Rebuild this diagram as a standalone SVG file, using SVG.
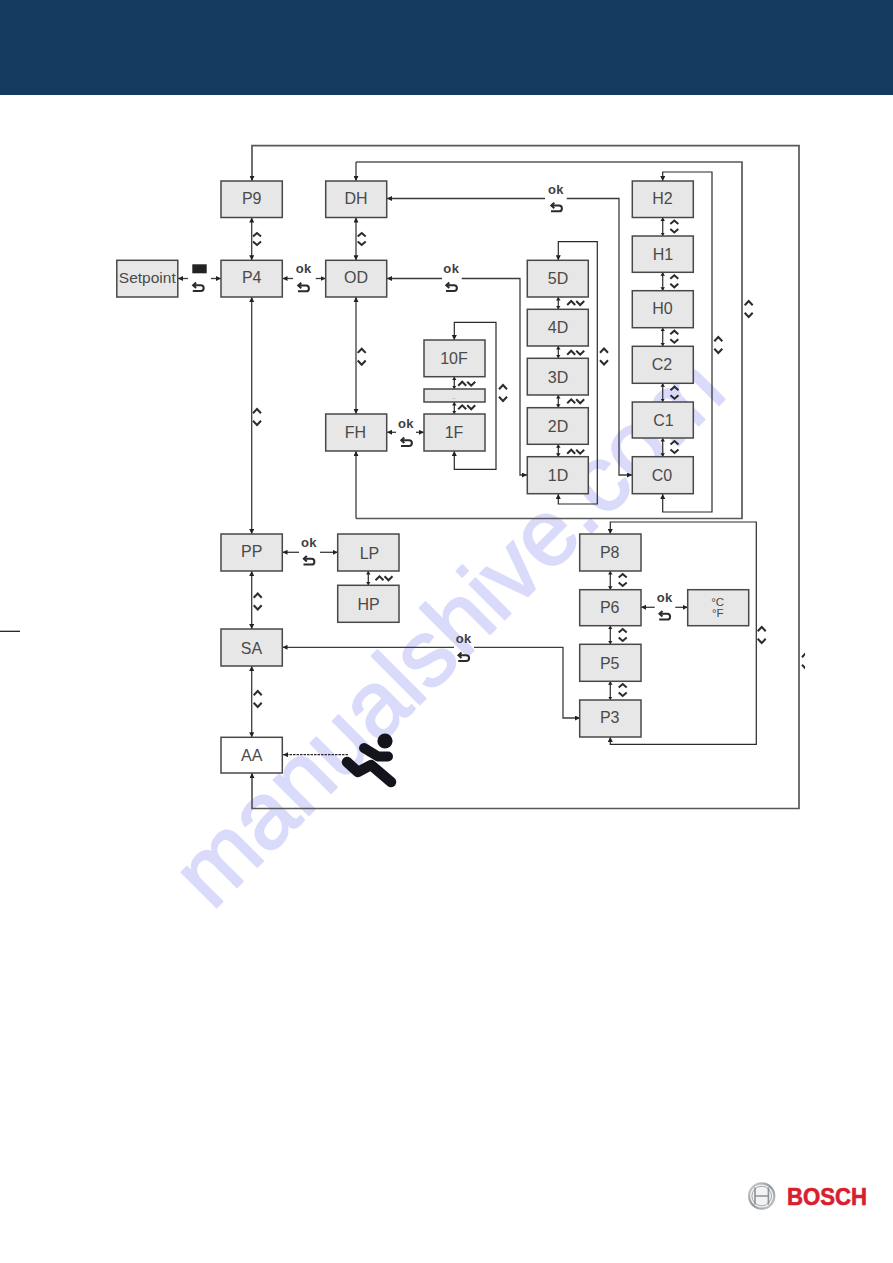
<svg xmlns="http://www.w3.org/2000/svg" width="893" height="1263" viewBox="0 0 893 1263">
  <style>
    text { font-family: "Liberation Sans", Arial, sans-serif; }
    .box { fill: #e7e7e7; stroke: #484848; stroke-width: 1.5; }
    .plain { fill: #ffffff; }
    .lbl { font-size: 16px; fill: #4a4a4a; text-anchor: middle; }
    .ok { font-size: 13px; font-weight: bold; fill: #3f3f3f; text-anchor: middle; letter-spacing: 0.4px; }
    .wire { fill: none; stroke: #3c3c3c; stroke-width: 1.3; }
    .outer { fill: none; stroke: #585858; stroke-width: 1.7; }
    .thin { fill: none; stroke: #2a2a2a; stroke-width: 1.2; }
    .a-end { marker-end: url(#head); }
    .a-both { marker-start: url(#head); marker-end: url(#head); }
    .a-short { marker-start: url(#tip); marker-end: url(#tip); }
    .care { fill: none; stroke: #2b2b2b; stroke-width: 2; }
  </style>
  <defs>
    <marker id="head" markerUnits="userSpaceOnUse" markerWidth="6" markerHeight="5" refX="5" refY="2.5" orient="auto-start-reverse">
      <path d="M0,0 L5,2.5 L0,5 Z" fill="#222222"/>
    </marker>
    <marker id="tip" markerUnits="userSpaceOnUse" markerWidth="5" markerHeight="5" refX="3.5" refY="2.25" orient="auto-start-reverse">
      <path d="M0,0 L3.5,2.25 L0,4.5 Z" fill="#222222"/>
    </marker>
    <g id="pair-tight" class="care"><path d="M-4,-2.5 L0,-6 L4,-2.5"/><path d="M-4,2.5 L0,6 L4,2.5"/></g>
    <g id="pair-wide" class="care"><path d="M-4,-3.8 L0,-8 L4,-3.8"/><path d="M-4,3.8 L0,8 L4,3.8"/></g>
    <g id="pair-row" class="care"><path d="M-8.5,2 L-4.5,-2 L-0.5,2"/><path d="M0.5,-2 L4.5,2 L8.5,-2"/></g>
    <g id="back" fill="none" stroke="#2b2b2b" stroke-width="2">
      <path d="M-5,-2.5 H2.5 A2.9,2.9 0 0 1 2.5,3.3 H-5.5"/>
      <path d="M-2.2,-5.2 L-5.2,-2.5 L-2.2,0.2"/>
    </g>
    <clipPath id="outer-edge"><rect x="790" y="640" width="15" height="40"/></clipPath>
    <linearGradient id="steel" x1="0" y1="0" x2="1" y2="1">
      <stop offset="0" stop-color="#d4d6d8"/>
      <stop offset="0.5" stop-color="#8f9498"/>
      <stop offset="1" stop-color="#c8cbce"/>
    </linearGradient>
  </defs>

  <rect id="header-band" x="0" y="0" width="893" height="95" fill="#153a60"/>
  <line x1="0" y1="631.3" x2="20" y2="631.3" stroke="#111111" stroke-width="1.2"/>

  <text id="site-mark" transform="translate(212 912) rotate(-45)" font-size="94" fill="#dadafb" stroke="#dadafb" stroke-width="2" stroke-linejoin="round">manualshive.com</text>

  <g id="connectors">
    <!-- outer return loops -->
    <path class="outer a-both" d="M252,773 V808.5 H799 V145.7 H252 V181"/>
    <path class="outer" d="M356,162 H742 V518.5 H356"/>
    <path class="wire a-end" d="M356,162 V181"/>
    <path class="wire a-end" d="M356,518.5 V451"/>
    <path class="thin a-both" d="M662.7,181 V172 H712 V512 H662.7 V494"/>
    <path class="thin a-both" d="M558.3,260.3 V241.7 H597.3 V504 H558.3 V494"/>
    <path class="thin a-both" d="M454.3,340 V322.3 H496 V469.3 H454.3 V451"/>
    <path class="thin a-both" d="M610.3,534 V522 H756.3 V744.3 H610.3 V737"/>
    <!-- ok links that run to the sub-menus -->
    <path class="wire a-end" d="M545,198.5 H387"/>
    <path class="wire a-end" d="M566.7,198.5 H619 V475 H632"/>
    <path class="wire a-end" d="M442,278.5 H387"/>
    <path class="wire a-end" d="M461.7,278.5 H520 V475 H527"/>
    <path class="wire a-end" d="M454,647.3 H282.5"/>
    <path class="wire a-end" d="M474,647.3 H563 V718 H580"/>
    <!-- main column -->
    <path class="wire a-both" d="M251.7,217.5 V260.3"/>
    <path class="wire a-both" d="M251.7,297 V534"/>
    <path class="wire a-both" d="M251.7,571 V629"/>
    <path class="wire a-both" d="M251.7,666 V737.3"/>
    <path class="wire a-both" d="M356,217.5 V260.3"/>
    <path class="wire a-both" d="M356,297 V414"/>
    <!-- short stack links -->
    <path class="wire a-short" d="M662.7,217.5 V236"/>
    <path class="wire a-short" d="M662.7,272.3 V290.7"/>
    <path class="wire a-short" d="M662.7,327.7 V346.3"/>
    <path class="wire a-short" d="M662.7,383.3 V402"/>
    <path class="wire a-short" d="M662.7,438 V456.7"/>
    <path class="wire a-short" d="M558.3,297 V309.3"/>
    <path class="wire a-short" d="M558.3,346 V358.3"/>
    <path class="wire a-short" d="M558.3,395 V407.7"/>
    <path class="wire a-short" d="M558.3,444.3 V456.7"/>
    <path class="wire a-short" d="M454.3,376.7 V389"/>
    <path class="wire a-short" d="M454.3,402 V414"/>
    <path class="wire a-short" d="M610.3,571 V589.7"/>
    <path class="wire a-short" d="M610.3,625.7 V644.3"/>
    <path class="wire a-short" d="M610.3,681.3 V700"/>
    <path class="wire a-short" d="M368.3,571 V585.3"/>
    <!-- short horizontal stubs beside the key symbols -->
    <path class="wire a-end" d="M188,278.5 H178"/>
    <path class="wire a-end" d="M211,278.5 H221"/>
    <path class="wire a-end" d="M293,278.5 H282.5"/>
    <path class="wire a-end" d="M315.7,278.5 H325.7"/>
    <path class="wire a-end" d="M396,432.3 H387"/>
    <path class="wire a-end" d="M416,432.3 H424"/>
    <path class="wire a-end" d="M299,552.3 H282.5"/>
    <path class="wire a-end" d="M320,552.3 H337.7"/>
    <path class="wire a-end" d="M654.7,607.3 H641"/>
    <path class="wire a-end" d="M675.3,607.3 H687.7"/>
    <path class="thin a-end" d="M348,754.7 H283" stroke-dasharray="2.5 1"/>
  </g>

  <g id="key-symbols">
    <use href="#pair-tight" x="257" y="239"/>
    <use href="#pair-tight" x="361.7" y="239"/>
    <use href="#pair-wide" x="257" y="417"/>
    <use href="#pair-wide" x="361.7" y="356.7"/>
    <use href="#pair-wide" x="503" y="393"/>
    <use href="#pair-wide" x="604" y="356.5"/>
    <use href="#pair-wide" x="718.3" y="345"/>
    <use href="#pair-wide" x="748.7" y="309"/>
    <use href="#pair-wide" x="761.7" y="635"/>
    <g clip-path="url(#outer-edge)"><use href="#pair-wide" x="806" y="661"/></g>
    <use href="#pair-tight" x="674.3" y="226.5"/>
    <use href="#pair-tight" x="674.3" y="281.3"/>
    <use href="#pair-tight" x="674.3" y="336.7"/>
    <use href="#pair-tight" x="674.5" y="392.7"/>
    <use href="#pair-tight" x="674.5" y="447"/>
    <use href="#pair-tight" x="622.7" y="580"/>
    <use href="#pair-tight" x="622.7" y="635"/>
    <use href="#pair-tight" x="622.7" y="690"/>
    <use href="#pair-wide" x="257.7" y="601.5"/>
    <use href="#pair-wide" x="257.7" y="699"/>
    <use href="#pair-row" x="575.7" y="303"/>
    <use href="#pair-row" x="575.7" y="352.7"/>
    <use href="#pair-row" x="575.7" y="401.3"/>
    <use href="#pair-row" x="575.7" y="451.7"/>
    <use href="#pair-row" x="466.7" y="383.7"/>
    <use href="#pair-row" x="466.7" y="407.3"/>
    <use href="#pair-row" x="384" y="578.3"/>

    <rect x="192.3" y="264.3" width="14.4" height="9" fill="#222222"/>
    <use href="#back" x="198.3" y="287.7"/>
    <text class="ok" x="303.7" y="273">ok</text><use href="#back" x="303.5" y="288"/>
    <text class="ok" x="556" y="193.7">ok</text><use href="#back" x="556.5" y="208"/>
    <text class="ok" x="451.3" y="273.3">ok</text><use href="#back" x="451.5" y="287.7"/>
    <text class="ok" x="406" y="428">ok</text><use href="#back" x="406.5" y="442.7"/>
    <text class="ok" x="309" y="547.3">ok</text><use href="#back" x="309" y="561.3"/>
    <text class="ok" x="664.7" y="602.3">ok</text><use href="#back" x="664.7" y="616.3"/>
    <text class="ok" x="463.7" y="643.3">ok</text><use href="#back" x="463.7" y="657.7"/>
  </g>

  <g id="node-setpoint"><rect class="box" x="116.8" y="260.3" width="61" height="36.7"/><text class="lbl" x="147.3" y="283.3" style="font-size:15.5px">Setpoint</text></g>
  <g id="node-p9"><rect class="box" x="221" y="181" width="61.3" height="36.5"/><text class="lbl" x="251.7" y="204">P9</text></g>
  <g id="node-p4"><rect class="box" x="221" y="260.3" width="61.3" height="36.7"/><text class="lbl" x="251.7" y="283.3">P4</text></g>
  <g id="node-dh"><rect class="box" x="325.7" y="181" width="61" height="36.5"/><text class="lbl" x="356" y="204">DH</text></g>
  <g id="node-od"><rect class="box" x="325.7" y="260.3" width="61" height="36.7"/><text class="lbl" x="356" y="283.3">OD</text></g>
  <g id="node-fh"><rect class="box" x="325.7" y="414" width="61" height="37"/><text class="lbl" x="355.5" y="437.7">FH</text></g>
  <g id="node-10f"><rect class="box" x="424" y="340" width="61" height="36.7"/><text class="lbl" x="454" y="364.3">10F</text></g>
  <g id="node-dots"><rect class="box" x="424" y="389" width="61" height="13"/><text x="454" y="398.5" font-size="6" fill="#4a4a4a" text-anchor="middle">..</text></g>
  <g id="node-1f"><rect class="box" x="424" y="414" width="61" height="37"/><text class="lbl" x="454" y="437.7">1F</text></g>
  <g id="node-5d"><rect class="box" x="527.3" y="260.3" width="61" height="36.7"/><text class="lbl" x="558" y="283.7">5D</text></g>
  <g id="node-4d"><rect class="box" x="527.3" y="309.3" width="61" height="36.7"/><text class="lbl" x="558" y="332.7">4D</text></g>
  <g id="node-3d"><rect class="box" x="527.3" y="358.3" width="61" height="36.7"/><text class="lbl" x="558" y="382.7">3D</text></g>
  <g id="node-2d"><rect class="box" x="527.3" y="407.7" width="61" height="36.6"/><text class="lbl" x="558" y="432">2D</text></g>
  <g id="node-1d"><rect class="box" x="527.3" y="456.7" width="61" height="37"/><text class="lbl" x="558" y="481.3">1D</text></g>
  <g id="node-h2"><rect class="box" x="632.3" y="181" width="61" height="36.5"/><text class="lbl" x="662.5" y="204">H2</text></g>
  <g id="node-h1"><rect class="box" x="632.3" y="236" width="61" height="36.3"/><text class="lbl" x="663" y="259.7">H1</text></g>
  <g id="node-h0"><rect class="box" x="632.3" y="290.7" width="61" height="37"/><text class="lbl" x="662.5" y="314">H0</text></g>
  <g id="node-c2"><rect class="box" x="632.3" y="346.3" width="61" height="37"/><text class="lbl" x="662" y="370">C2</text></g>
  <g id="node-c1"><rect class="box" x="632.3" y="402" width="61" height="36"/><text class="lbl" x="663.5" y="425.7">C1</text></g>
  <g id="node-c0"><rect class="box" x="632.3" y="456.7" width="61" height="37"/><text class="lbl" x="662" y="481.3">C0</text></g>
  <g id="node-pp"><rect class="box" x="221" y="534" width="61.3" height="37"/><text class="lbl" x="251.7" y="556.7">PP</text></g>
  <g id="node-lp"><rect class="box" x="337.7" y="534" width="61.3" height="37"/><text class="lbl" x="369.5" y="559">LP</text></g>
  <g id="node-hp"><rect class="box" x="337.7" y="585.3" width="61.3" height="37"/><text class="lbl" x="368.5" y="610">HP</text></g>
  <g id="node-sa"><rect class="box" x="221" y="629" width="61.3" height="37"/><text class="lbl" x="251.5" y="654">SA</text></g>
  <g id="node-aa"><rect class="box plain" x="221" y="737.3" width="61.3" height="35.7"/><text class="lbl" x="251.7" y="760.7">AA</text></g>
  <g id="node-p8"><rect class="box" x="579.7" y="534" width="61.3" height="37"/><text class="lbl" x="609.7" y="558">P8</text></g>
  <g id="node-p6"><rect class="box" x="579.7" y="589.7" width="61.3" height="36"/><text class="lbl" x="609.7" y="613.3">P6</text></g>
  <g id="node-p5"><rect class="box" x="579.7" y="644.3" width="61.3" height="37"/><text class="lbl" x="609.7" y="668.7">P5</text></g>
  <g id="node-p3"><rect class="box" x="579.7" y="700" width="61.3" height="37"/><text class="lbl" x="609.7" y="723.3">P3</text></g>
  <g id="node-unit"><rect class="box" x="687.7" y="589.7" width="61" height="36"/><text class="lbl" x="717.7" y="605.7" style="font-size:11.5px">°C</text><text class="lbl" x="717.7" y="617.3" style="font-size:11.5px">°F</text></g>

  <g id="seat-figure" fill="none" stroke="#14141c" stroke-linejoin="round">
    <circle cx="385" cy="741" r="7.6" fill="#14141c" stroke="none"/>
    <path d="M364,748 L378,756.5 H388" stroke-width="10" stroke-linecap="round"/>
    <path d="M347,762 L358,772 L371,765 L391,782" stroke-width="10.5" stroke-linecap="round"/>
  </g>

  <g id="brand">
    <circle cx="761.7" cy="1196" r="12.6" fill="#f2f3f4" stroke="url(#steel)" stroke-width="2.2"/>
    <circle cx="761.7" cy="1196" r="9.8" fill="none" stroke="#a4a8ac" stroke-width="1"/>
    <path d="M755,1187.5 V1204.5 M768.4,1187.5 V1204.5 M755,1196 H768.4" fill="none" stroke="#8d9296" stroke-width="1.6"/>
    <text x="787" y="1205" font-size="24" font-weight="bold" fill="#d8202c" stroke="#d8202c" stroke-width="0.6" textLength="80" lengthAdjust="spacingAndGlyphs">BOSCH</text>
  </g>
</svg>
